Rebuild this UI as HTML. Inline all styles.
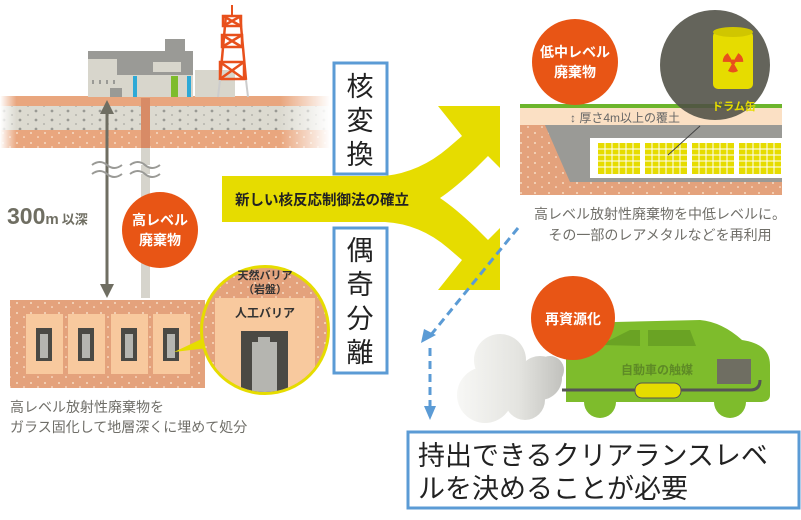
<!DOCTYPE html>
<html><head><meta charset="utf-8"><style>
body{margin:0;background:#fff;}
svg{display:block;}
text{font-family:"Liberation Sans","Noto Sans CJK JP",sans-serif;}
</style></head><body>
<svg width="801" height="520" viewBox="0 0 801 520" xmlns="http://www.w3.org/2000/svg">
<defs>
<linearGradient id="fadeL" x1="0" x2="1"><stop offset="0" stop-color="#fff" stop-opacity="1"/><stop offset="0.05" stop-color="#fff" stop-opacity="0"/><stop offset="0.85" stop-color="#fff" stop-opacity="0"/><stop offset="1" stop-color="#fff" stop-opacity="1"/></linearGradient>
<linearGradient id="cloud" gradientUnits="userSpaceOnUse" x1="455" y1="0" x2="570" y2="0"><stop offset="0" stop-color="#f8f8f6"/><stop offset="0.55" stop-color="#e4e4e0"/><stop offset="1" stop-color="#bcbcb8"/></linearGradient>
<clipPath id="yc"><circle cx="265" cy="330" r="62"/></clipPath>
<pattern id="dots" width="14" height="10" patternUnits="userSpaceOnUse"><circle cx="3" cy="3" r="1" fill="#f6dcc4"/><circle cx="10" cy="7" r="0.8" fill="#fff2e4"/></pattern>
<pattern id="gdots" width="16" height="9" patternUnits="userSpaceOnUse"><circle cx="4" cy="3" r="1.4" fill="#9a9a94"/><circle cx="12" cy="7" r="0.9" fill="#a8a8a2"/></pattern>
</defs>

<rect x="0" y="96" width="330" height="10" fill="#e9a67e"/>
<rect x="0" y="106" width="330" height="24" fill="#dcdad0"/>
<rect x="0" y="106" width="330" height="24" fill="url(#gdots)"/>
<rect x="0" y="130" width="330" height="18" fill="#e9a67e"/>
<rect x="0" y="130" width="330" height="18" fill="url(#dots)"/>
<rect x="0" y="96" width="330" height="52" fill="url(#fadeL)"/>

<rect x="88" y="51" width="105" height="46" fill="#d8d6cc"/>
<rect x="88" y="51" width="105" height="8" fill="#9a9a96"/>
<rect x="117" y="59" width="76" height="16" fill="#9a9a96"/>
<rect x="165" y="39" width="20" height="14" fill="#9a9a96"/>
<rect x="153" y="62" width="28" height="10" fill="#d8d6cc"/>
<rect x="195" y="70" width="40" height="27" fill="#d8d6cc"/>
<rect x="110" y="88" width="12" height="9" fill="#9a9a96"/>
<rect x="133" y="76" width="4" height="21" fill="#2ea9d6"/>
<rect x="171" y="76" width="7" height="21" fill="#7ebc2c"/>
<rect x="187" y="76" width="4" height="21" fill="#2ea9d6"/>
<g fill="#9a9a96"><rect x="92" y="80" width="2" height="4"/><rect x="99" y="80" width="2" height="4"/><rect x="106" y="80" width="2" height="4"/><rect x="113" y="80" width="2" height="4"/></g>
<g stroke="#e8501c" stroke-width="2.5" fill="none">
<line x1="226" y1="15" x2="220" y2="80"/><line x1="240" y1="15" x2="246" y2="80"/>
<rect x="223" y="16" width="18" height="10"/><rect x="222" y="35" width="20" height="12"/><rect x="220" y="62" width="24" height="17"/>
<path d="M223,16 L241,26 M241,16 L223,26 M222,35 L242,47 M242,35 L222,47 M220,62 L244,79 M244,62 L220,79"/>
</g>
<line x1="232" y1="5" x2="232" y2="16" stroke="#e8501c" stroke-width="2"/>
<path d="M220,80 L218,97 M246,80 L248,97" stroke="#ccc" stroke-width="2"/>

<rect x="141" y="98" width="9" height="200" fill="#d6d4cc"/>
<rect x="141" y="98" width="9" height="50" fill="#d88b66"/>
<line x1="107" y1="112" x2="107" y2="286" stroke="#6f6e62" stroke-width="3"/>
<path d="M100,114 L107,100 L114,114Z M100,284 L107,298 L114,284Z" fill="#6f6e62"/>
<path d="M92,165 q8,-6 15,0 t15,0 M92,174 q8,-6 15,0 t15,0 M130,165 q8,-6 15,0 t15,0 M130,174 q8,-6 15,0 t15,0" stroke="#9a9a96" stroke-width="2" fill="#fff"/>
<text x="7" y="224" font-size="23" font-weight="bold" fill="#6f6e62">300<tspan font-size="15">m</tspan><tspan font-size="13" dx="3">以深</tspan></text>

<circle cx="160" cy="230" r="38" fill="#e85515"/>
<text x="160" y="225" font-size="14" font-weight="bold" fill="#fff" text-anchor="middle">高レベル</text>
<text x="160" y="245" font-size="14" font-weight="bold" fill="#fff" text-anchor="middle">廃棄物</text>

<rect x="10" y="300" width="195" height="88" fill="#e4a27c"/>
<rect x="10" y="300" width="195" height="88" fill="url(#dots)"/>
<g fill="#f8c99e">
<rect x="26" y="314" width="37" height="60"/><rect x="68" y="314" width="37" height="60"/><rect x="111" y="314" width="37" height="60"/><rect x="153" y="314" width="37" height="60"/></g>
<g fill="#4a4944"><rect x="36" y="328" width="16" height="33"/><rect x="78" y="328" width="16" height="33"/><rect x="121" y="328" width="16" height="33"/><rect x="163" y="328" width="16" height="33"/></g>
<g fill="#b5b5b0"><rect x="40" y="334" width="8" height="24"/><rect x="82" y="334" width="8" height="24"/><rect x="125" y="334" width="8" height="24"/><rect x="167" y="334" width="8" height="24"/></g>
<path d="M174,352 L208,336 L208,348Z" fill="#e6dc00"/>
<circle cx="265" cy="330" r="65" fill="#e6dc00"/>
<g clip-path="url(#yc)">
<rect x="195" y="260" width="140" height="140" fill="#e4a27c"/>
<rect x="195" y="260" width="140" height="140" fill="url(#dots)"/>
<rect x="215" y="298" width="100" height="100" fill="#f8c99e"/>
<rect x="241" y="331" width="47" height="70" fill="#4a4944"/>
<rect x="252" y="342" width="25" height="60" fill="#b5b5b0"/>
<rect x="258" y="337" width="12" height="6" fill="#b5b5b0"/>
</g>
<text x="265" y="279" font-size="11" font-weight="bold" fill="#333" text-anchor="middle">天然バリア</text>
<text x="265" y="293" font-size="11" font-weight="bold" fill="#333" text-anchor="middle">（岩盤）</text>
<text x="265" y="317" font-size="12" font-weight="bold" fill="#333" text-anchor="middle">人工バリア</text>

<text x="10" y="412" font-size="14" fill="#6f6e68">高レベル放射性廃棄物を</text>
<text x="10" y="432" font-size="14" fill="#6f6e68">ガラス固化して地層深くに埋めて処分</text>

<path d="M222,176 L385,176 Q420,172 448,148 L462,136 L438,106 L500,106 L500,168 L488,156 L476,168 Q455,188 440,198 Q455,208 476,228 L488,240 L500,228 L500,290 L438,290 L462,260 L448,248 Q420,224 385,222 L222,222 Z" fill="#e6dc00"/>
<text x="235" y="205" font-size="14.5" font-weight="bold" fill="#222">新しい核反応制御法の確立</text>

<rect x="334" y="63" width="53" height="111" fill="#fff" stroke="#5b9bd5" stroke-width="3"/>
<text x="360" y="96" font-size="27" fill="#222" text-anchor="middle">核</text>
<text x="360" y="130" font-size="27" fill="#222" text-anchor="middle">変</text>
<text x="360" y="164" font-size="27" fill="#222" text-anchor="middle">換</text>
<rect x="334" y="228" width="53" height="145" fill="#fff" stroke="#5b9bd5" stroke-width="3"/>
<text x="360" y="260" font-size="27" fill="#222" text-anchor="middle">偶</text>
<text x="360" y="294" font-size="27" fill="#222" text-anchor="middle">奇</text>
<text x="360" y="328" font-size="27" fill="#222" text-anchor="middle">分</text>
<text x="360" y="362" font-size="27" fill="#222" text-anchor="middle">離</text>

<rect x="520" y="104" width="262" height="4" fill="#6cb52c"/>
<rect x="520" y="108" width="262" height="17" fill="#fbe0c4"/>
<rect x="520" y="125" width="262" height="70" fill="#e4a27c"/>
<rect x="520" y="125" width="262" height="70" fill="url(#dots)"/>
<path d="M545,125 L782,125 L782,182 L570,182 Z" fill="#9a9a96"/>
<rect x="590" y="138" width="192" height="40" fill="#fff"/>
<g fill="#e6dc00">
<rect x="598" y="143" width="42" height="31"/><rect x="645" y="143" width="42" height="31"/><rect x="692" y="143" width="42" height="31"/><rect x="739" y="143" width="42" height="31"/></g>
<g stroke="#fff" stroke-width="1">
<path d="M598,149H782M598,155H782M598,161H782M598,167H782"/>
<path d="M605,143V174M612,143V174M619,143V174M626,143V174M633,143V174M652,143V174M659,143V174M666,143V174M673,143V174M680,143V174M699,143V174M706,143V174M713,143V174M720,143V174M727,143V174M746,143V174M753,143V174M760,143V174M767,143V174M774,143V174"/>
</g>
<text x="570" y="122" font-size="12" fill="#666">↕ 厚さ4m以上の覆土</text>
<circle cx="715" cy="65" r="55" fill="#4f4e44" fill-opacity="0.88"/>
<path d="M668,155 L700,126" stroke="#444" stroke-width="1"/>
<rect x="713" y="31" width="40" height="58" rx="5" fill="#e6dc00"/>
<ellipse cx="733" cy="32" rx="20" ry="5" fill="#d0c600"/>
<g fill="#e8501c" transform="translate(733,62)">
<path d="M0,0 L-5,-9 A10,10 0 0 1 5,-9Z" transform="rotate(-60)"/>
<path d="M0,0 L-5,-9 A10,10 0 0 1 5,-9Z" transform="rotate(60)"/>
<path d="M0,0 L-5,-9 A10,10 0 0 1 5,-9Z" transform="rotate(180)"/>
<circle r="2.5"/>
</g>
<text x="734" y="110" font-size="11" font-weight="bold" fill="#e6dc00" text-anchor="middle">ドラム缶</text>
<circle cx="575" cy="62" r="43" fill="#e85515"/>
<text x="575" y="57" font-size="14" font-weight="bold" fill="#fff" text-anchor="middle">低中レベル</text>
<text x="575" y="77" font-size="14" font-weight="bold" fill="#fff" text-anchor="middle">廃棄物</text>
<text x="660" y="219" font-size="14" fill="#6f6e68" text-anchor="middle">高レベル放射性廃棄物を中低レベルに。</text>
<text x="660" y="240" font-size="14" fill="#6f6e68" text-anchor="middle">その一部のレアメタルなどを再利用</text>

<g fill="url(#cloud)"><circle cx="500" cy="360" r="26"/><circle cx="485" cy="395" r="28"/><circle cx="540" cy="378" r="22"/><circle cx="525" cy="400" r="20"/><circle cx="550" cy="370" r="14"/><rect x="485" y="365" width="55" height="40"/></g>
<path d="M566,345 Q572,330 615,322 L700,320 Q722,322 742,340 Q770,344 770,365 L770,395 Q770,402 760,402 L566,402 Z" fill="#7ebc2c"/>
<circle cx="600" cy="402" r="16" fill="#7ebc2c"/><circle cx="730" cy="402" r="16" fill="#7ebc2c"/>
<path d="M600,345 L630,330 L640,330 L640,346Z M648,330 L690,330 L696,346 L648,346Z" fill="#6aa324"/>
<rect x="717" y="359" width="34" height="25" fill="#6f6e62"/>
<path d="M562,390 L750,390 Q760,390 760,380" stroke="#555" stroke-width="3" fill="none"/>
<rect x="635" y="383" width="46" height="15" rx="7" fill="#e6dc00" stroke="#555"/>
<text x="657" y="374" font-size="12" font-weight="bold" fill="#5e8a26" text-anchor="middle">自動車の触媒</text>
<circle cx="573" cy="318" r="42" fill="#e85515"/>
<text x="573" y="324" font-size="14" font-weight="bold" fill="#fff" text-anchor="middle">再資源化</text>

<path d="M518,228 L430,336 M430,348 L430,406" stroke="#5b9bd5" stroke-width="3" stroke-dasharray="8,5" fill="none"/>
<path d="M421,343 L436,335 L424,329Z" fill="#5b9bd5"/>
<path d="M424,406 L436,406 L430,420Z" fill="#5b9bd5"/>

<rect x="408" y="432" width="391" height="76" fill="#fff" stroke="#5b9bd5" stroke-width="3"/>
<text x="418" y="465" font-size="27" fill="#222">持出できるクリアランスレベ</text>
<text x="418" y="498" font-size="27" fill="#222">ルを決めることが必要</text>
</svg>
</body></html>
